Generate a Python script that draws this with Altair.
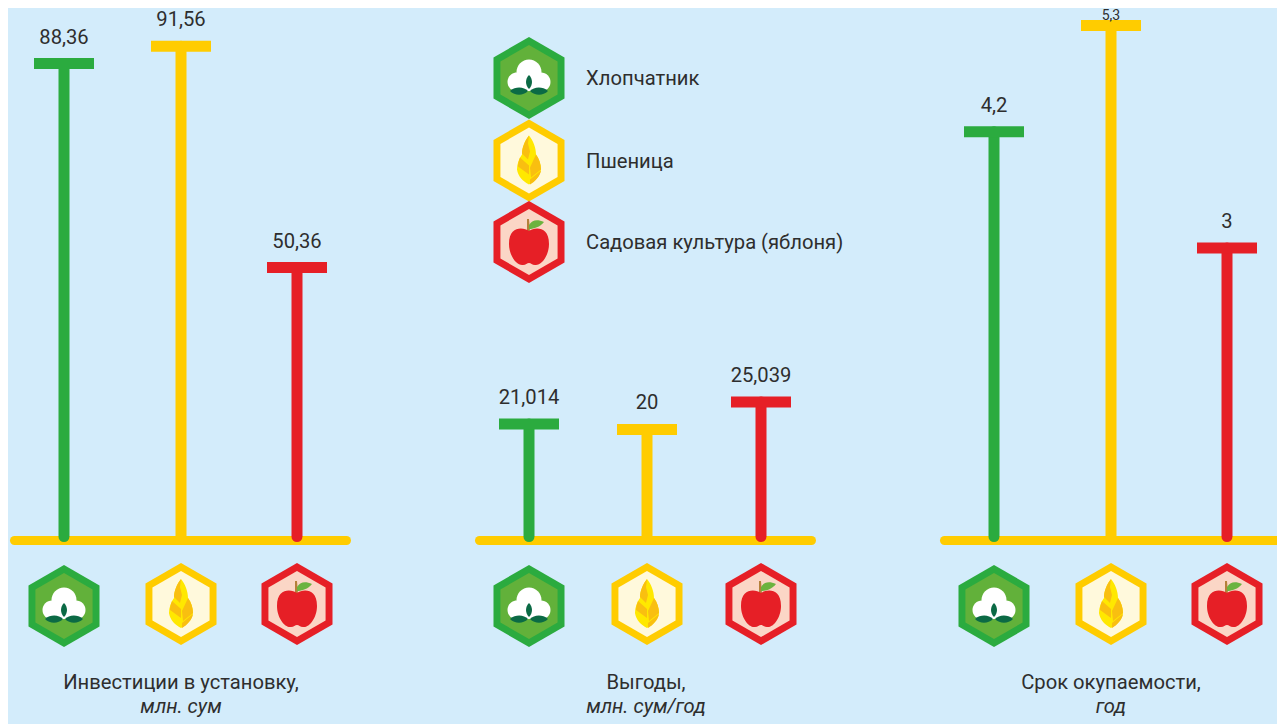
import re
import altair as alt
import pandas as pd

crops = ["Хлопчатник", "Пшеница", "Садовая культура (яблоня)"]
colors = ["#2bab3f", "#ffcc00", "#e61f26"]
crop_index = [0, 1, 2]
invest = [88.36, 91.56, 50.36]
benefit = [21.014, 20, 25.039]
payback = [4.2, 5.3, 3]
invest_lbl = ["88,36", "91,56", "50,36"]
benefit_lbl = ["21,014", "20", "25,039"]
payback_lbl = ["4,2", "5,3", "3"]
titles = [("Инвестиции в установку,", "млн. сум"), ("Выгоды,", "млн. сум/год"), ("Срок окупаемости,", "год")]
BG = "#d3ecfb"
FONT = "Roboto"
INK = "#2e2e2e"
FS = 20.2
R = 41.0
GOLD = "#f9bf10"
LEMON = "#ffe800"


def unit(d):
    return re.sub(r"-?\d+\.?\d*", lambda m: f"{float(m.group())/R:.4f}", d)


def hexagon(r):
    w = r * 0.866
    return f"M0,{-r}L{w:.2f},{-r/2}L{w:.2f},{r/2}L0,{r}L{-w:.2f},{r/2}L{-w:.2f},{-r/2}Z"


def circle(cx, cy, r):
    k = 0.5523 * r
    return (
        f"M{cx-r},{cy}C{cx-r},{cy-k} {cx-k},{cy-r} {cx},{cy-r}"
        f"C{cx+k},{cy-r} {cx+r},{cy-k} {cx+r},{cy}"
        f"C{cx+r},{cy+k} {cx+k},{cy+r} {cx},{cy+r}"
        f"C{cx-k},{cy+r} {cx-r},{cy+k} {cx-r},{cy}Z"
    )


ICONS = {
    0: [
        (hexagon(41), "#2bab3f"),
        (hexagon(33), "#62b13a"),
        (circle(0, -6, 12.5), "#ffffff"),
        (circle(-12, 4, 9.5), "#ffffff"),
        (circle(12, 4, 9.5), "#ffffff"),
        ("M-10,-2L10,-2L10,12L-10,14Z", "#ffffff"),
        ("M0,-3C4,1 4,7 0,11C-4,7 -4,1 0,-3Z", "#0b6a45"),
        ("M-19,13C-13,8 -5,9 -1,13C-6,18 -14,18 -19,13Z", "#0b6a45"),
        ("M19,13C13,8 5,9 1,13C6,18 14,18 19,13Z", "#0b6a45"),
    ],
    1: [
        (hexagon(41), "#ffcc00"),
        (hexagon(33), "#fff9dc"),
        ("M0,-25C4,-20 7,-13 7,-6C10,-2 12,4 12,9C11,16 6,21 0,24C-6,21 -11,16 -12,9C-12,4 -10,-2 -7,-6C-7,-13 -4,-20 0,-25Z", LEMON),
        ("M0,-25C-4,-20 -7,-13 -7,-7L-1,-1L1,-9L-1,-17Z", GOLD),
        ("M-9,-3C-10,0 -11,3 -11,6L0,14L0,5Z", GOLD),
        ("M7,-6C10,-2 12,4 12,9L2,17L1,7Z", GOLD),
        ("M1,24C6,21 11,16 12,10L1,19Z", GOLD),
    ],
    2: [
        (hexagon(41), "#e61f26"),
        (hexagon(33), "#fbd6c6"),
        ("M-2,-10L-2,-23L0,-23L1,-10Z", "#b5803a"),
        ("M0,-17C3,-22 8,-23 15,-20C11,-15 5,-13 0,-13Z", "#6cb33f"),
        ("M0,-11C-6,-15 -20,-16 -20,2C-20,14 -12,24 -6,23C-3,23 -2,21 0,21C2,21 3,23 6,23C12,24 20,14 20,2C20,-16 6,-15 0,-11Z", "#e61f26"),
    ],
}
ICON_Y = {0: 598, 1: 596, 2: 596}


def icon_layer(i, x_px, y_px):
    rows = pd.DataFrame({"shape": [unit(p) for p, _ in ICONS[i]], "fill": [c for _, c in ICONS[i]]})
    return alt.Chart(rows).mark_point(filled=True, opacity=1, strokeWidth=0, size=(2 * R) ** 2).encode(
        x=alt.value(x_px),
        y=alt.value(y_px),
        shape=alt.Shape("shape:N", scale=None),
        color=alt.Color("fill:N", scale=None),
    )


def panel(values, labels, title, ymax, x0, xs, legend=False, tight=None):
    df = pd.DataFrame({"i": crop_index, "crop": crops, "v": values, "lbl": labels, "col": colors})
    px = [x0 + a for a in xs]
    X = alt.X("i:Q", scale=alt.Scale(domain=crop_index, range=px), axis=None)
    Y = alt.Y("v:Q", scale=alt.Scale(domain=[0, ymax], range=[530, 0]), axis=None)
    base = alt.Chart(df)
    colr = alt.Color("col:N", scale=None)
    axis_line = alt.Chart(pd.DataFrame({"a": [0]})).mark_rule(
        color="#ffcc00", strokeWidth=9, strokeCap="round"
    ).encode(x=alt.value(x0 + 6.5), x2=alt.value(x0 + 338.5), y=alt.value(532.5))
    stems = base.mark_rule(strokeWidth=11, strokeCap="round").encode(x=X, y=Y, y2=alt.value(528.5), color=colr)
    caps = base.mark_tick(size=60, thickness=11, opacity=1, orient="horizontal").encode(x=X, y=Y, color=colr)
    enc = dict(x=X, y=Y, text="lbl:N")
    if tight:
        text = base.transform_filter(f"datum.lbl != '{tight}'").mark_text(
            font=FONT, fontSize=FS, color=INK, baseline="alphabetic", dy=-20).encode(**enc)
        text2 = base.transform_filter(f"datum.lbl == '{tight}'").mark_text(
            font=FONT, fontSize=14, color=INK, baseline="alphabetic", dy=-5).encode(**enc)
        layers = [axis_line, stems, caps, text, text2]
    else:
        text = base.mark_text(font=FONT, fontSize=FS, color=INK, baseline="alphabetic", dy=-20).encode(**enc)
        layers = [axis_line, stems, caps, text]
    for i, c in enumerate(crops):
        layers.append(icon_layer(i, px[i], ICON_Y[i]))
    title_df = pd.DataFrame({"a": [title[0]], "b": [title[1]]})
    cx = x0 + 173
    layers.append(alt.Chart(title_df).mark_text(font=FONT, fontSize=FS, color=INK).encode(
        x=alt.value(cx), y=alt.value(675), text="a:N"))
    layers.append(alt.Chart(title_df).mark_text(font=FONT, fontSize=FS, color=INK, fontStyle="italic").encode(
        x=alt.value(cx), y=alt.value(699), text="b:N"))
    if legend:
        leg_y = [70, 152.5, 234]
        for i, c in enumerate(crops):
            layers.append(icon_layer(i, x0 + 56, leg_y[i]))
            layers.append(alt.Chart(pd.DataFrame({"c": [c]})).mark_text(
                font=FONT, fontSize=FS, color=INK, align="left").encode(
                x=alt.value(x0 + 113), y=alt.value(leg_y[i] + 1), text="c:N"))
    return layers


all_layers = (
    panel(invest, invest_lbl, titles[0], 530 / 5.37, 0, [56, 173, 289])
    + panel(benefit, benefit_lbl, titles[1], 530 / 5.43, 465, [56, 174, 288], legend=True)
    + panel(payback, payback_lbl, titles[2], 530 / 96.7, 930, [56, 173, 289], tight="5,3")
)

chart = alt.layer(*all_layers).resolve_scale(
    x="independent", y="independent", color="independent", shape="independent"
).properties(
    width=1269, height=716, padding=0, autosize=alt.AutoSizeParams(type="none"), background=BG
).configure_view(stroke=None, fill=BG)

chart.save("out.html", embed_options={"renderer": "svg", "actions": False})
